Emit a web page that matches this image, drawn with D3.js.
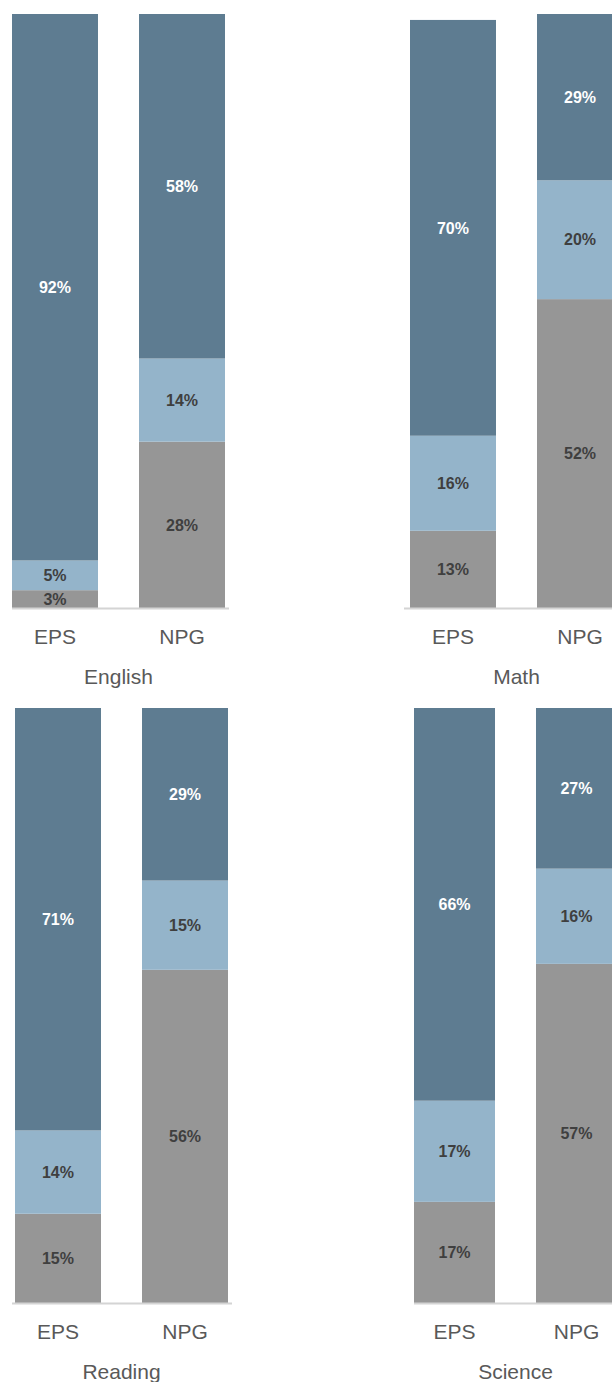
<!DOCTYPE html>
<html>
<head>
<meta charset="utf-8">
<script src="https://cdn.jsdelivr.net/npm/d3@7"></script>
<style>
  body { margin: 0; background: #fff; }
  text { font-family: "Liberation Sans", Arial, sans-serif; }
</style>
</head>
<body>
<div id="chart"></div>
<script>
// data: one row per subject, one column per group (EPS, NPG)
var subjects = ["English", "Math", "Reading", "Science"];
var groups = ["EPS", "NPG"];
var lowVals  = [[3, 28], [13, 52], [15, 56], [17, 57]];   // gray, bottom
var midVals  = [[5, 14], [16, 20], [14, 15], [17, 16]];   // light blue, middle
var highVals = [[92, 58], [70, 29], [71, 29], [66, 27]];  // dark blue, top
var yDomain = [0, 100];

var keys = ["low", "mid", "high"];
var colors = {low: "#969696", mid: "#94b4ca", high: "#5e7c91"};
var labelColors = {low: "#3f3f3f", mid: "#3f3f3f", high: "#ffffff"};

// where each small panel sits on the page
var panels = [
  {x0: 12,  span: 213, pad: 0.323, top: 14,  base: 608,  lineL: 0, lineR: 4},
  {x0: 410, span: 213, pad: 0.323, top: 14,  base: 608,  lineL: 6, lineR: 4},
  {x0: 15,  span: 213, pad: 0.323, top: 708, base: 1303, lineL: 3, lineR: 4},
  {x0: 414, span: 203, pad: 0.336, top: 708, base: 1303, lineL: 0, lineR: 4}
];

var svg = d3.select("#chart")
  .append("svg")
    .attr("width", 612)
    .attr("height", 1382);

subjects.forEach(function(subject, i) {
  var p = panels[i];

  var table = groups.map(function(g, j) {
    return {group: g, low: lowVals[i][j], mid: midVals[i][j], high: highVals[i][j]};
  });
  var series = d3.stack().keys(keys)(table);

  var x = d3.scaleBand()
    .domain(groups)
    .range([p.x0, p.x0 + p.span])
    .paddingInner(p.pad)
    .paddingOuter(0);

  var y = d3.scaleLinear()
    .domain(yDomain)
    .range([p.base, p.top])
    .clamp(true);

  var g = svg.append("g");

  var layer = g.selectAll("g.layer")
    .data(series)
    .enter()
    .append("g")
      .attr("class", "layer")
      .attr("fill", function(d) { return colors[d.key]; });

  layer.selectAll("rect")
    .data(function(d) { return d; })
    .enter()
    .append("rect")
      .attr("x", function(d) { return x(d.data.group); })
      .attr("width", x.bandwidth())
      .attr("y", function(d) { return y(d[1]); })
      .attr("height", function(d) { return y(d[0]) - y(d[1]); });

  // percent labels in the middle of each segment
  series.forEach(function(s) {
    g.selectAll(null)
      .data(s)
      .enter()
      .append("text")
        .attr("x", function(d) { return x(d.data.group) + x.bandwidth() / 2; })
        .attr("y", function(d) { return (y(d[0]) + y(d[1])) / 2; })
        .attr("dy", "0.36em")
        .attr("text-anchor", "middle")
        .attr("font-size", "16px")
        .attr("font-weight", "bold")
        .attr("fill", labelColors[s.key])
        .text(function(d) { return (d[1] - d[0]) + "%"; });
  });

  // baseline
  g.append("line")
    .attr("x1", x.range()[0] - p.lineL)
    .attr("x2", x.range()[1] + p.lineR)
    .attr("y1", p.base + 0.5)
    .attr("y2", p.base + 0.5)
    .attr("stroke", "#d4d4d4")
    .attr("stroke-width", 2);

  // category axis
  var ax = g.append("g")
    .attr("transform", "translate(0," + p.base + ")")
    .call(d3.axisBottom(x).tickSize(0));
  ax.select(".domain").remove();
  ax.selectAll("text")
    .attr("y", 36)
    .attr("dy", 0)
    .attr("font-size", "21px")
    .attr("font-family", "Liberation Sans, Arial, sans-serif")
    .attr("fill", "#595959");

  // subject title
  g.append("text")
    .attr("x", (x("EPS") + x("NPG")) / 2 + x.bandwidth() / 2)
    .attr("y", p.base + 76)
    .attr("text-anchor", "middle")
    .attr("font-size", "21px")
    .attr("fill", "#595959")
    .text(subject);
});
</script>
</body>
</html>
